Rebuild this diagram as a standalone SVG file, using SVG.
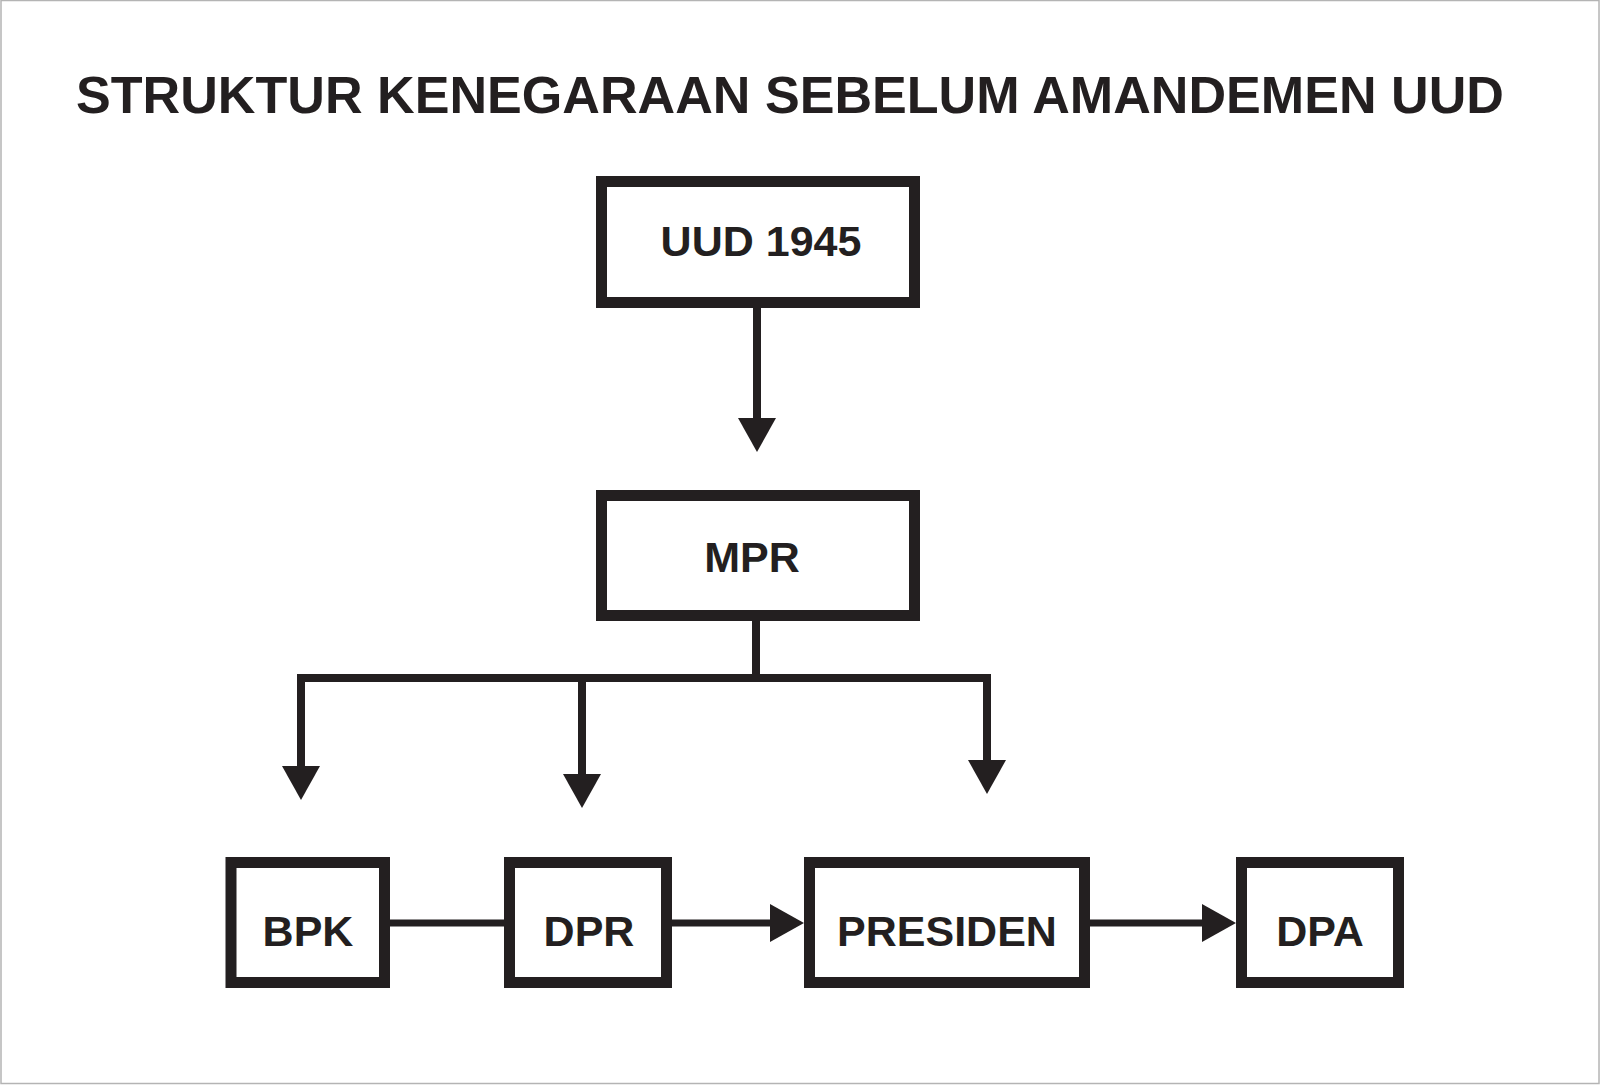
<svg xmlns="http://www.w3.org/2000/svg" width="1600" height="1085" viewBox="0 0 1600 1085">
  <style>
    .box { fill: #ffffff; stroke: #231f20; stroke-width: 11; }
    .lbl { font-family: "Liberation Sans", Arial, sans-serif; font-weight: bold; font-size: 43px; fill: #231f20; text-anchor: middle; }
    .title { font-family: "Liberation Sans", Arial, sans-serif; font-weight: bold; font-size: 52.5px; fill: #231f20; }
    .conn { fill: none; stroke: #231f20; stroke-width: 8; stroke-linejoin: miter; stroke-linecap: butt; }
    .thin { fill: none; stroke: #231f20; stroke-width: 7; }
  </style>
  <defs>
    <marker id="head" markerUnits="userSpaceOnUse" viewBox="0 -19 34 38" markerWidth="34" markerHeight="38" refX="1" refY="0" orient="auto">
      <path d="M0,-19 L34,0 L0,19 Z" fill="#231f20"/>
    </marker>
  </defs>
  <rect x="0" y="0" width="1600" height="1085" fill="#ffffff"/>
  <rect x="1" y="0.5" width="1598" height="1083" fill="none" stroke="#b4b4b4" stroke-width="1.5"/>

  <text class="title" x="76" y="113" textLength="1428" lengthAdjust="spacingAndGlyphs">STRUKTUR KENEGARAAN SEBELUM AMANDEMEN UUD</text>

  <g id="connectors">
    <path class="conn" d="M757,308 V419" marker-end="url(#head)"/>
    <path class="conn" d="M756,621 V678"/>
    <path class="conn" d="M756,678 H301 V767" marker-end="url(#head)"/>
    <path class="conn" d="M756,678 H987 V761" marker-end="url(#head)"/>
    <path class="conn" d="M582,678 V775" marker-end="url(#head)"/>
    <path class="thin" d="M390,923 H504"/>
    <path class="thin" d="M672,923 H771" marker-end="url(#head)"/>
    <path class="thin" d="M1090,923 H1203" marker-end="url(#head)"/>
  </g>

  <g id="node-uud">
    <rect class="box" x="601.5" y="181.5" width="313" height="121"/>
    <text class="lbl" x="761" y="256">UUD 1945</text>
  </g>
  <g id="node-mpr">
    <rect class="box" x="601.5" y="495.5" width="313" height="120"/>
    <text class="lbl" x="752" y="572">MPR</text>
  </g>
  <g id="node-bpk">
    <rect class="box" x="231" y="862.5" width="153.5" height="120"/>
    <text class="lbl" x="308" y="946">BPK</text>
  </g>
  <g id="node-dpr">
    <rect class="box" x="509.5" y="862.5" width="157" height="120"/>
    <text class="lbl" x="589" y="946">DPR</text>
  </g>
  <g id="node-presiden">
    <rect class="box" x="809.5" y="862.5" width="275" height="120"/>
    <text class="lbl" x="947" y="946">PRESIDEN</text>
  </g>
  <g id="node-dpa">
    <rect class="box" x="1241.5" y="862.5" width="157" height="120"/>
    <text class="lbl" x="1320" y="946">DPA</text>
  </g>
</svg>
